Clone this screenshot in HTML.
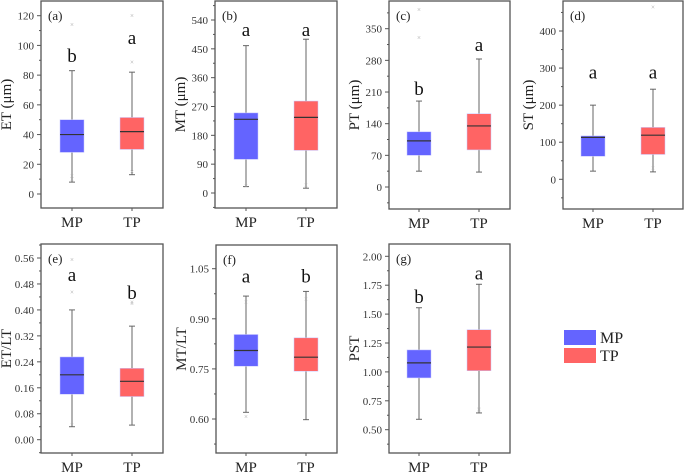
<!DOCTYPE html>
<html><head><meta charset="utf-8"><style>
body{margin:0;background:#fff;}
svg{display:block;font-family:"Liberation Serif",serif;}
</style></head><body>
<svg id="c" width="685" height="472"></svg>
<script>
const groups=["MP","TP"];
const panelLabels=["(a)","(b)","(c)","(d)","(e)","(f)","(g)"];
const axisTitles=["ET (μm)","MT (μm)","PT (μm)","ST (μm)","ET/LT","MT/LT","PST"];
const tickLabels=[
 ["0","20","40","60","80","100","120"],
 ["0","90","180","270","360","450","540"],
 ["0","70","140","210","280","350"],
 ["0","100","200","300","400"],
 ["0.00","0.08","0.16","0.24","0.32","0.40","0.48","0.56"],
 ["0.60","0.75","0.90","1.05"],
 ["0.50","0.75","1.00","1.25","1.50","1.75","2.00"]];
// [low,q1,med,q3,high] per panel for MP, TP
const mpStats=[[8,28,40,50,83],[20,105,230,250,460],[35,70,102,122,190],[22,62,113,117,200],[0.04,0.14,0.20,0.255,0.40],[0.62,0.758,0.805,0.853,0.968],[0.59,0.948,1.078,1.19,1.555]];
const tpStats=[[13,30,42,51.5,82],[15,133,236,287,480],[33,82,135,162,283],[20,67,119,140,243],[0.045,0.133,0.18,0.22,0.35],[0.598,0.743,0.785,0.843,0.982],[0.645,1.01,1.215,1.365,1.758]];
const mpOutliers=[[10,12,114],[22],[330,392],[],[0.045,0.455,0.555],[0.607,0.95],[]];
const tpOutliers=[[15,89,120],[25],[],[30,465],[0.42,0.425],[0.96],[0.67,0.68]];
const mpLetters=["b","a","b","a","a","a","b"];
const tpLetters=["a","a","a","a","b","b","a"];
const mpLetterVal=[93,509,217,288,0.508,1.027,1.65];
const tpLetterVal=[105,509,314,288,0.452,1.027,1.85];
// layout: frame l,r,t,b ; tick calibration v0,y0,v1,y1 ; centers
const L=[
 {l:41,r:163,t:1,b:208,v0:0,y0:194,v1:120,y1:15.7,cx:[72,132]},
 {l:215,r:337,t:1,b:208,v0:0,y0:193,v1:540,y1:20,cx:[246,306]},
 {l:389,r:510,t:1,b:209,v0:0,y0:187,v1:350,y1:28.7,cx:[419,479]},
 {l:563,r:683,t:1,b:209,v0:0,y0:179.3,v1:400,y1:31,cx:[593,653]},
 {l:41,r:163,t:244,b:453,v0:0,y0:439.7,v1:0.56,y1:258,cx:[72,132]},
 {l:216,r:337,t:245,b:453,v0:0.60,y0:419,v1:1.05,y1:268.7,cx:[246,306]},
 {l:389,r:510,t:244,b:453,v0:0.50,y0:429.7,v1:2.00,y1:256.3,cx:[419,479]}];
const colors=["#6464ff","#ff6464"];
const NS="http://www.w3.org/2000/svg";
const svg=document.getElementById('c');
function mk(tag,attrs,parent,text){const e=document.createElementNS(NS,tag);for(const k in attrs)e.setAttribute(k,attrs[k]);if(text!==undefined)e.textContent=text;(parent||svg).appendChild(e);return e;}
L.forEach((p,i)=>{
 const y=v=>p.y0+(v-p.v0)*(p.y1-p.y0)/(p.v1-p.v0);
 const g=mk('g',{});
 
 
 const f=mk('rect',{x:p.l,y:p.t,width:p.r-p.l,height:p.b-p.t,fill:'none',stroke:'#555','stroke-width':1.3},g);
 
 const labs=tickLabels[i];
 const step=(parseFloat(labs[1])-parseFloat(labs[0]));
 labs.forEach((t,k)=>{
  const v=parseFloat(t),yy=y(v);
  mk('line',{x1:p.l-4,x2:p.l,y1:yy,y2:yy,stroke:'#555'},g);
  const tl=mk('text',{x:p.l-7,y:yy+4,'text-anchor':'end','font-size':11,fill:'#333'},g,t);
  
 });
 for(let v=parseFloat(labs[0])-step/2;;v+=step){const yy=y(v);if(yy<p.t)break;if(yy<=p.b)mk('line',{x1:p.l-2,x2:p.l,y1:yy,y2:yy,stroke:'#555'},g);}
 const at=mk('text',{transform:`translate(${p.l-30},${(p.t+p.b)/2}) rotate(-90)`,'text-anchor':'middle','font-size':15,fill:'#222'},g,axisTitles[i]);
 
 const pl=mk('text',{x:p.l+7,y:p.t+19,'font-size':13,fill:'#222'},g,panelLabels[i]);
 
 [mpStats[i],tpStats[i]].forEach((s,j)=>{
  const cx=p.cx[j],w=24;
  mk('line',{x1:cx,x2:cx,y1:y(s[0]),y2:y(s[4]),stroke:'#666','stroke-width':1},g);
  mk('line',{x1:cx-3,x2:cx+3,y1:y(s[0]),y2:y(s[0]),stroke:'#666'},g);
  mk('line',{x1:cx-3,x2:cx+3,y1:y(s[4]),y2:y(s[4]),stroke:'#666'},g);
  const b=mk('rect',{x:cx-w/2,y:y(s[3]),width:w,height:y(s[1])-y(s[3]),fill:colors[j],stroke:'#c8c8ff','stroke-width':0.5},g);
  
  mk('line',{x1:cx-w/2,x2:cx+w/2,y1:y(s[2]),y2:y(s[2]),stroke:'#333','stroke-width':1.2},g);
  mk('line',{x1:cx,x2:cx,y1:p.b,y2:p.b+3,stroke:'#555'},g);
  const xl=mk('text',{x:cx,y:p.b+19,'text-anchor':'middle','font-size':15,fill:'#222'},g,groups[j]);
  
  (j?tpOutliers:mpOutliers)[i].forEach(o=>{
   const oy=y(o);
   mk('text',{x:cx,y:oy+2.5,'text-anchor':'middle','font-size':7,fill:'#aaa'},g,'×');
  });
  const lt=mk('text',{x:cx,y:y(j?tpLetterVal[i]:mpLetterVal[i])+6,'text-anchor':'middle','font-size':19,fill:'#111'},g,(j?tpLetters:mpLetters)[i]);
  
 });
});
const lg=mk('g',{});

groups.forEach((n,j)=>{
 mk('rect',{x:564,y:330+j*18,width:32,height:15,fill:colors[j]},lg);
 const t=mk('text',{x:600,y:343+j*18,'font-size':16,fill:'#222'},lg,n);
 
});
</script>
</body></html>
